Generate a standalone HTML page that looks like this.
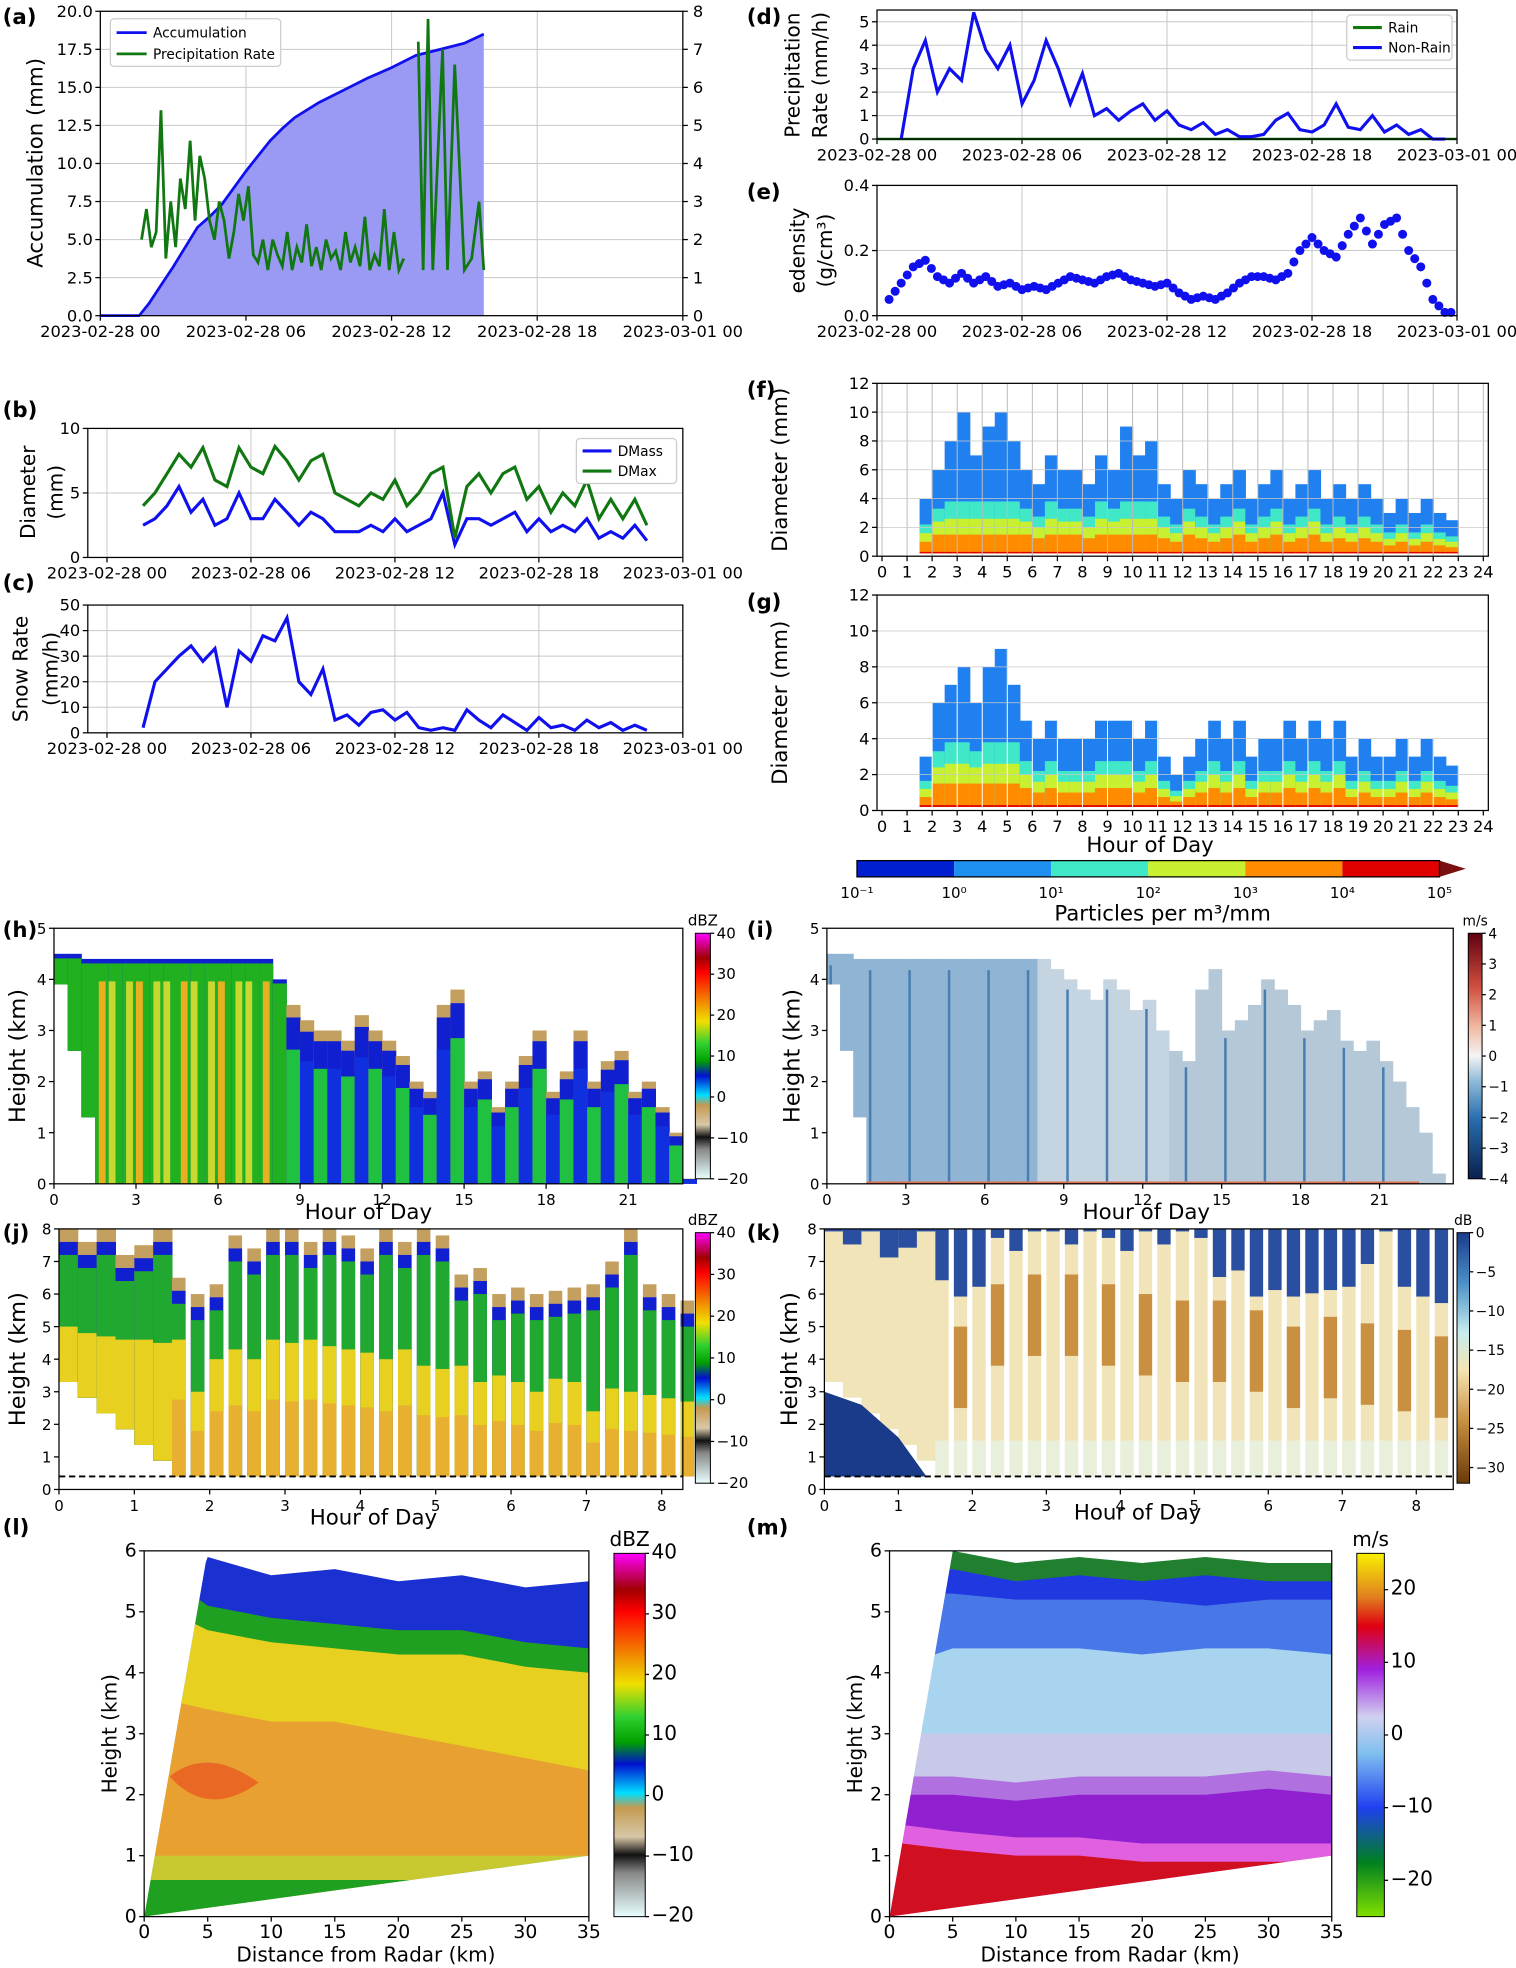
<!DOCTYPE html>
<html><head><meta charset="utf-8"><title>Snow event multi-panel figure</title>
<style>
html,body{margin:0;padding:0;background:#fff;}
svg{display:block;font-family:"DejaVu Sans","Liberation Sans",sans-serif;}
</style></head>
<body>
<svg id="fig" width="1516" height="1968" viewBox="0 0 1210 1571" xmlns="http://www.w3.org/2000/svg">
<defs>
<linearGradient id="gDbz" x1="0" y1="1" x2="0" y2="0">
<stop offset="0" stop-color="#e8ffff"/><stop offset="0.12" stop-color="#888"/><stop offset="0.17" stop-color="#111"/><stop offset="0.22" stop-color="#d8c8a8"/><stop offset="0.3" stop-color="#c49a50"/><stop offset="0.34" stop-color="#00e0ff"/><stop offset="0.42" stop-color="#0010d0"/><stop offset="0.48" stop-color="#00a000"/><stop offset="0.55" stop-color="#30d030"/><stop offset="0.64" stop-color="#f0e000"/><stop offset="0.7" stop-color="#f0a000"/><stop offset="0.84" stop-color="#ff0000"/><stop offset="0.9" stop-color="#a00000"/><stop offset="1" stop-color="#ff00ff"/>
</linearGradient>
<linearGradient id="gVel" x1="0" y1="1" x2="0" y2="0">
<stop offset="0" stop-color="#0a2050"/><stop offset="0.25" stop-color="#2a70b0"/><stop offset="0.4" stop-color="#90bcd8"/><stop offset="0.5" stop-color="#f4f4f4"/><stop offset="0.62" stop-color="#f0b8a0"/><stop offset="0.78" stop-color="#d05040"/><stop offset="1" stop-color="#600010"/>
</linearGradient>
<linearGradient id="gLdr" x1="0" y1="1" x2="0" y2="0">
<stop offset="0" stop-color="#6a3a08"/><stop offset="0.25" stop-color="#c89040"/><stop offset="0.45" stop-color="#f4e4b0"/><stop offset="0.6" stop-color="#c8ecec"/><stop offset="0.8" stop-color="#4a90c8"/><stop offset="1" stop-color="#1a3a8a"/>
</linearGradient>
<linearGradient id="gRad" x1="0" y1="1" x2="0" y2="0">
<stop offset="0" stop-color="#80e000"/><stop offset="0.15" stop-color="#008020"/><stop offset="0.3" stop-color="#2040f0"/><stop offset="0.45" stop-color="#80c0f0"/><stop offset="0.55" stop-color="#d0d0f0"/><stop offset="0.68" stop-color="#a020e0"/><stop offset="0.8" stop-color="#e00010"/><stop offset="0.88" stop-color="#e08020"/><stop offset="1" stop-color="#f8f000"/>
</linearGradient>
</defs>
</svg>
<script>
// ---------- data ----------
const accHours=[0,1.6,2,2.5,3,3.5,4,4.5,5,5.5,6,6.5,7,7.5,8,9,10,11,12,13,14,15,15.8];
const accValues=[0,0,0.8,2,3.2,4.5,5.8,6.5,7.3,8.4,9.5,10.5,11.5,12.3,13,14,14.8,15.6,16.3,17.1,17.5,17.9,18.5];
const rateDense=[2,2.8,1.8,2.2,5.4,1.5,3,1.8,3.6,2.8,4.6,2.5,4.2,3.6,2.5,2,3,2.5,1.5,2.2,3.2,2.5,3.4,1.6,1.4,2,1.2,2,1.6,1.3,2.2,1.2,1.8,1.4,2.4,1.3,1.8,1.2,2,1.5,1.7,1.2,2.2,1.4,1.8,1.3,2.6,1.2,1.6,1.3,2.8,1.2,2.2,1.2,1.5];
const rateSpikeHours=[13.1,13.3,13.5,13.7,14.1,14.3,14.6,15,15.3,15.6,15.8];
const rateSpikeValues=[7.2,1.2,7.8,1.2,7,1.2,6.6,1.2,1.5,3,1.2];
const dmaxValues=[4,5,6.5,8,7,8.5,6,5.5,8.5,7,6.5,8.6,7.5,6,7.5,8,5,4.5,4,5,4.5,6,4,5,6.5,7,1.5,5.5,6.5,5,6.5,7,4.5,5.5,3.5,5,4,6,3,4.5,3,4.5,2.5];
const dmassValues=[2.5,3,4,5.5,3.5,4.5,2.5,3,5,3,3,4.5,3.5,2.5,3.5,3,2,2,2,2.5,2,3,2,2.5,3,5,1,3,3,2.5,3,3.5,2,3,2,2.5,2,3,1.5,2,1.5,2.5,1.3];
const snowRateValues=[2,20,25,30,34,28,33,10,32,28,38,36,45,20,15,25,5,7,3,8,9,5,8,2,1,2,1,9,5,2,7,4,1,6,2,3,1,5,2,4,1,3,1];
const nonRainValues=[0,3,4.2,2,3,2.5,5.4,3.8,3,4,1.5,2.5,4.2,3,1.5,2.8,1,1.3,0.8,1.2,1.5,0.8,1.2,0.6,0.4,0.7,0.2,0.4,0.1,0.1,0.2,0.8,1.1,0.4,0.3,0.6,1.5,0.5,0.4,1,0.3,0.6,0.2,0.4,0,0];
const edensityValues=[0.05,0.1,0.15,0.17,0.12,0.1,0.13,0.1,0.12,0.09,0.1,0.08,0.09,0.08,0.1,0.12,0.11,0.1,0.12,0.13,0.11,0.1,0.09,0.1,0.07,0.05,0.06,0.05,0.07,0.1,0.12,0.12,0.11,0.13,0.2,0.24,0.2,0.18,0.25,0.3,0.22,0.28,0.3,0.2,0.15,0.05,0.01];
const psdMaxF=[4,6,8,10,7,9,10,8,6,5,7,6,6,5,7,6,9,7,8,5,4,6,5,4,5,6,4,5,6,4,5,6,4,5,4,5,4,3,4,3,4,3,2.5];
const psdMaxG=[3,6,7,8,6,8,9,7,5,4,5,4,4,4,5,5,5,4,5,3,2,3,4,5,4,5,3,4,4,5,4,5,4,5,3,4,3,3,4,3,4,3,2.5];
const echoTopH=[4.5,4.5,4.4,4.4,4.4,4.4,4.4,4.4,4.4,4.4,4.4,4.4,4.4,4.4,4.4,4.4,4.0,3.5,3.2,3.0,3.0,2.8,3.3,3.0,2.8,2.5,2.0,1.8,3.5,3.8,2.0,2.2,1.5,2.0,2.5,3.0,1.8,2.2,3.0,2.0,2.4,2.6,1.8,2.0,1.5,1.0,0.1];
const echoTopI=[4.5,4.5,4.4,4.4,4.4,4.4,4.4,4.4,4.4,4.4,4.4,4.4,4.4,4.4,4.4,4.4,4.4,4.2,4.0,3.8,3.6,4.0,3.8,3.4,3.6,3.0,2.6,2.4,3.8,4.2,3.0,3.2,3.5,4.0,3.8,3.5,3.0,3.2,3.4,2.8,2.6,2.8,2.4,2.0,1.5,1.0,0.2];
const cloudTopJ=[8,7.6,8,7.2,7.5,8,6.5,6,6.3,7.8,7.4,8,8,7.6,8,7.8,7.4,8,7.6,8,7.8,6.6,6.8,6,6.2,6,6.1,6.2,6.3,7,8,6.3,6,5.8];
const meltTopJ=[5,4.8,4.7,4.6,4.6,4.5,4.6,3,4,4.3,4,4.6,4.5,4.6,4.4,4.3,4.2,4,4.3,3.8,3.7,3.8,3.3,3.5,3.3,3,3.4,3.3,2.4,3.1,3,2.9,2.8,2.7];
const distL=[0,5,10,15,20,25,30,35];
const bandTopL=[5.8,5.9,5.6,5.7,5.5,5.6,5.4,5.5];
const greenTopL=[5.2,5.1,4.9,4.8,4.7,4.7,4.5,4.4];
const orangeTopL=[3.5,3.4,3.2,3.2,3.0,2.8,2.6,2.4];
const bandTopM=[6,6,5.8,5.9,5.8,5.9,5.8,5.8];
const blueTopM=[5.3,5.3,5.2,5.2,5.2,5.1,5.2,5.2];
const lightTopM=[4.3,4.4,4.4,4.4,4.3,4.4,4.4,4.3];
const purpleTopM=[2.0,2.0,1.9,2.0,2.0,2.0,2.1,2.0];
const redTopM=[1.2,1.1,1.0,1.0,0.9,0.9,0.9,0.9];
const dateTicks=['2023-02-28 00','2023-02-28 06','2023-02-28 12','2023-02-28 18','2023-03-01 00'];

// ---------- helpers ----------
const svg=document.getElementById('fig');
const NS='http://www.w3.org/2000/svg';
function mk(tag,attrs,name,parent){
  const el=document.createElementNS(NS,tag);
  for(const k in attrs) el.setAttribute(k,attrs[k]);
  
  
  (parent||svg).appendChild(el);return el;
}
function txt(x,y,s,name,opt){
  opt=opt||{};
  const t=mk('text',{x:x,y:y,'font-size':opt.size||13,'text-anchor':opt.anchor||'middle',fill:opt.fill||'#000','font-weight':opt.weight||'normal'},name);
  if(opt.rot) t.setAttribute('transform','rotate('+opt.rot+' '+x+' '+y+')');
  t.textContent=s;return t;
}
function scales(A){
  A.sx=v=>A.x0+(v-A.xmin)/(A.xmax-A.xmin)*(A.x1-A.x0);
  A.sy=v=>A.y1-(v-A.ymin)/(A.ymax-A.ymin)*(A.y1-A.y0);
  return A;
}
function frame(A,name,yt,ylab,grid,xt,xlab,fs){
  fs=fs||13;
  if(grid){
    yt.forEach(v=>mk('line',{x1:A.x0,x2:A.x1,y1:A.sy(v),y2:A.sy(v),stroke:'#c8c8c8','stroke-width':0.8},name+'-grid-y'));
    xt.forEach(v=>mk('line',{x1:A.sx(v[0]),x2:A.sx(v[0]),y1:A.y0,y2:A.y1,stroke:'#c8c8c8','stroke-width':0.8},name+'-grid-x'));
  }
  yt.forEach(v=>{
    mk('line',{x1:A.x0-4,x2:A.x0,y1:A.sy(v),y2:A.sy(v),stroke:'#000'},name+'-y-tick');
    txt(A.x0-6,A.sy(v)+4.5,ylab(v),name+'-y-tick-label',{anchor:'end',size:fs});
  });
  xt.forEach(v=>{
    mk('line',{x1:A.sx(v[0]),x2:A.sx(v[0]),y1:A.y1,y2:A.y1+4,stroke:'#000'},name+'-x-tick');
    txt(A.sx(v[0]),A.y1+17,v[1],name+'-x-tick-label',{size:fs});
  });
}
function box(A,name){mk('rect',{x:A.x0,y:A.y0,width:A.x1-A.x0,height:A.y1-A.y0,fill:'none',stroke:'#000','stroke-width':1},name+'-frame');}
function poly(A,xs,ys,name,color,w){
  const pts=xs.map((x,i)=>A.sx(x).toFixed(1)+','+A.sy(ys[i]).toFixed(1)).join(' ');
  return mk('polyline',{points:pts,fill:'none',stroke:color,'stroke-width':w||2.5},name);
}
function hoursFrom(start,step,n){const a=[];for(let i=0;i<n;i++)a.push(start+i*step);return a;}
const dateX=[[0,dateTicks[0]],[6,dateTicks[1]],[12,dateTicks[2]],[18,dateTicks[3]],[24,dateTicks[4]]];
function label(x,y,s){txt(x,y,s,'panel-label-'+s.replace(/[()]/g,''),{size:17,weight:'bold',anchor:'start'});}

// ---------- (a) ----------
(function(){
  const A=scales({x0:80,x1:545,y0:9,y1:252,xmin:0,xmax:24,ymin:0,ymax:20});
  frame(A,'a',[0,2.5,5,7.5,10,12.5,15,17.5,20],v=>v.toFixed(1),true,dateX,'',13);
  const R=scales({x0:80,x1:545,y0:9,y1:252,xmin:0,xmax:24,ymin:0,ymax:8});
  [0,1,2,3,4,5,6,7,8].forEach(v=>{mk('line',{x1:545,x2:549,y1:R.sy(v),y2:R.sy(v),stroke:'#000'},'a-right-tick');txt(553,R.sy(v)+4.5,String(v),'a-right-tick-label',{anchor:'start'});});
  let d='M'+A.sx(accHours[0])+','+A.sy(0);
  accHours.forEach((h,i)=>d+=' L'+A.sx(h).toFixed(1)+','+A.sy(accValues[i]).toFixed(1));
  d+=' L'+A.sx(accHours[accHours.length-1])+','+A.sy(0)+' Z';
  mk('path',{d:d,fill:'#9a9af4',stroke:'none'},'accumulation-area');
  poly(A,accHours,accValues,'accumulation-line','#1010ee',2.2);
  poly(R,hoursFrom(1.7,0.2,rateDense.length),rateDense,'precip-rate-line','#117711',2.2);
  poly(R,rateSpikeHours,rateSpikeValues,'precip-rate-spikes','#117711',2.2);
  box(A,'a');
  txt(34,130,'Accumulation (mm)','a-y-axis-title',{size:17,rot:-90});
  mk('rect',{x:88,y:15,width:136,height:38,fill:'#fff',stroke:'#ccc',rx:3},'a-legend');
  mk('line',{x1:93,x2:117,y1:26,y2:26,stroke:'#1010ee','stroke-width':2.2},'legend-accumulation-swatch');
  txt(122,30,'Accumulation','legend-accumulation',{anchor:'start',size:11});
  mk('line',{x1:93,x2:117,y1:43,y2:43,stroke:'#117711','stroke-width':2.2},'legend-precip-swatch');
  txt(122,47,'Precipitation Rate','legend-precip-rate',{anchor:'start',size:11});
  label(2,19,'(a)');
})();

// ---------- (b) ----------
(function(){
  const A=scales({x0:70,x1:545,y0:342,y1:445,xmin:-0.8,xmax:24,ymin:0,ymax:10});
  frame(A,'b',[0,5,10],v=>String(v),true,dateX,'',13);
  const hs=hoursFrom(1.5,0.5,dmaxValues.length);
  poly(A,hs,dmassValues,'dmass-line','#1010ee',2.5);
  poly(A,hs,dmaxValues,'dmax-line','#117711',2.5);
  box(A,'b');
  txt(28,393,'Diameter','b-y-axis-title',{size:16,rot:-90});
  txt(50,393,'(mm)','b-y-axis-unit',{size:16,rot:-90});
  mk('rect',{x:460,y:350,width:80,height:36,fill:'#fff',stroke:'#ccc',rx:3},'b-legend');
  mk('line',{x1:465,x2:488,y1:360,y2:360,stroke:'#1010ee','stroke-width':2.5},'legend-dmass-swatch');
  txt(493,364,'DMass','legend-dmass',{anchor:'start',size:11});
  mk('line',{x1:465,x2:488,y1:376,y2:376,stroke:'#117711','stroke-width':2.5},'legend-dmax-swatch');
  txt(493,380,'DMax','legend-dmax',{anchor:'start',size:11});
  label(2,333,'(b)');
})();

// ---------- (c) ----------
(function(){
  const A=scales({x0:70,x1:545,y0:483,y1:585,xmin:-0.8,xmax:24,ymin:0,ymax:50});
  frame(A,'c',[0,10,20,30,40,50],v=>String(v),true,dateX,'',13);
  poly(A,hoursFrom(1.5,0.5,snowRateValues.length),snowRateValues,'snow-rate-line','#1010ee',2.5);
  box(A,'c');
  txt(22,534,'Snow Rate','c-y-axis-title',{size:16,rot:-90});
  txt(46,534,'(mm/h)','c-y-axis-unit',{size:16,rot:-90});
  label(2,471,'(c)');
})();

// ---------- (d) ----------
(function(){
  const A=scales({x0:700,x1:1163,y0:8,y1:111,xmin:0,xmax:24,ymin:0,ymax:5.5});
  frame(A,'d',[0,1,2,3,4,5],v=>String(v),true,dateX,'',13);
  mk('line',{x1:A.sx(0),x2:A.sx(24),y1:A.sy(0),y2:A.sy(0),stroke:'#117711','stroke-width':2},'rain-line');
  poly(A,hoursFrom(1,0.5,nonRainValues.length),nonRainValues,'non-rain-line','#1010ee',2.5);
  box(A,'d');
  txt(638,60,'Precipitation','d-y-axis-title',{size:16,rot:-90});
  txt(660,60,'Rate (mm/h)','d-y-axis-unit',{size:16,rot:-90});
  mk('rect',{x:1075,y:12,width:84,height:36,fill:'#fff',stroke:'#ccc',rx:3},'d-legend');
  mk('line',{x1:1080,x2:1103,y1:22,y2:22,stroke:'#117711','stroke-width':2.5},'legend-rain-swatch');
  txt(1108,26,'Rain','legend-rain',{anchor:'start',size:11});
  mk('line',{x1:1080,x2:1103,y1:38,y2:38,stroke:'#1010ee','stroke-width':2.5},'legend-non-rain-swatch');
  txt(1108,42,'Non-Rain','legend-non-rain',{anchor:'start',size:11});
  label(596,19,'(d)');
})();

// ---------- (e) ----------
(function(){
  const A=scales({x0:700,x1:1163,y0:148,y1:252,xmin:0,xmax:24,ymin:0,ymax:0.4});
  frame(A,'e',[0,0.2,0.4],v=>v.toFixed(1),true,dateX,'',13);
  const hs=hoursFrom(0.5,0.5,edensityValues.length);
  edensityValues.forEach((v,i)=>{
    mk('circle',{cx:A.sx(hs[i]),cy:A.sy(v),r:3.6,fill:'#1010ee'},'edensity-point');
    mk('circle',{cx:A.sx(hs[i]+0.25),cy:A.sy((v+(edensityValues[i+1]??v))/2),r:3.6,fill:'#1010ee'},'edensity-point');
  });
  box(A,'e');
  txt(642,200,'edensity','e-y-axis-title',{size:16,rot:-90});
  txt(664,200,'(g/cm³)','e-y-axis-unit',{size:16,rot:-90});
  label(596,159,'(e)');
})();

// ---------- (f),(g) PSD ----------
const psdColors=['#e00000','#ff8c00','#c8f030','#40e8c8','#2080f0'];
function psd(A,name,maxArr,gridColor){
  const hs=hoursFrom(1.5,0.5,maxArr.length);
  const w=A.sx(0.5)-A.sx(0);
  maxArr.forEach((m,i)=>{
    const x=A.sx(hs[i]);
    const tops=[0.3,Math.min(1.5,m*0.25),Math.min(2.6,m*0.4),Math.min(3.8,m*0.55),m];
    for(let k=4;k>=0;k--){
      mk('rect',{x:x,y:A.sy(tops[k]),width:w+0.5,height:A.sy(0.2)-A.sy(tops[k]),fill:psdColors[k]},name+'-psd-cell');
    }
  });
  for(let h=0;h<=24;h++) mk('line',{x1:A.sx(h),x2:A.sx(h),y1:A.y0,y2:A.y1,stroke:gridColor,'stroke-width':0.8},name+'-grid-x');
  for(let d=0;d<=12;d+=2) mk('line',{x1:A.x0,x2:A.x1,y1:A.sy(d),y2:A.sy(d),stroke:'#c8c8c8','stroke-width':0.6},name+'-grid-y');
  const xt=[];for(let h=0;h<=24;h++)xt.push([h,String(h)]);
  frame(A,name,[0,2,4,6,8,10,12],v=>String(v),false,xt,'',13);
  box(A,name);
}
(function(){
  const F=scales({x0:700,x1:1188,y0:306,y1:444,xmin:-0.2,xmax:24.2,ymin:0,ymax:12});
  psd(F,'f',psdMaxF,'#bbbbbb');
  txt(628,375,'Diameter (mm)','f-y-axis-title',{size:17,rot:-90});
  label(596,317,'(f)');
  const G=scales({x0:700,x1:1188,y0:475,y1:647,xmin:-0.2,xmax:24.2,ymin:0,ymax:12});
  psd(G,'g',psdMaxG,'#ffffff');
  txt(628,561,'Diameter (mm)','g-y-axis-title',{size:17,rot:-90});
  txt(918,680,'Hour of Day','g-x-axis-title',{size:17});
  label(596,486,'(g)');
  const cols=['#0020d0','#2090f0','#40e8c8','#c8f030','#ff8c00','#e00000'];
  cols.forEach((c,i)=>mk('rect',{x:684+i*77.5,y:687,width:77.5,height:13,fill:c},'psd-colorbar-segment'));
  mk('polygon',{points:'1149,687 1170,693.5 1149,700',fill:'#7a1010'},'psd-colorbar-extend');
  mk('rect',{x:684,y:687,width:465,height:13,fill:'none',stroke:'#000'},'psd-colorbar-frame');
  ['10⁻¹','10⁰','10¹','10²','10³','10⁴','10⁵'].forEach((s,i)=>txt(684+i*77.5,717,s,'psd-colorbar-label',{size:12}));
  txt(928,735,'Particles per m³/mm','psd-colorbar-title',{size:17});
})();

// ---------- colorbar helper ----------
function cbar(x,y,w,h,grad,vals,vmin,vmax,unit,name,fs){
  mk('rect',{x:x,y:y,width:w,height:h,fill:'url(#'+grad+')',stroke:'#000','stroke-width':0.8},name+'-colorbar');
  vals.forEach(v=>{
    const yy=y+h-(v-vmin)/(vmax-vmin)*h;
    mk('line',{x1:x+w,x2:x+w+3,y1:yy,y2:yy,stroke:'#000'},name+'-colorbar-tick');
    txt(x+w+5,yy+4,(v<0?'−'+(-v):String(v)),name+'-colorbar-label',{anchor:'start',size:fs||12});
  });
  txt(x+w/2,y-6,unit,name+'-colorbar-unit',{size:fs||12});
}

// ---------- (h) ----------
(function(){
  const A=scales({x0:43,x1:545,y0:741,y1:945,xmin:0,xmax:23,ymin:0,ymax:5});
  const hs=hoursFrom(0,0.5,echoTopH.length);const w=A.sx(0.5)-A.sx(0);
  echoTopH.forEach((t,i)=>{
    const x=A.sx(hs[i]);const late=hs[i]>8;
    const bot=hs[i]<1.5?(1.5-hs[i])*2.6:0;
    mk('rect',{x:x,y:A.sy(t),width:w+0.4,height:A.sy(bot)-A.sy(t),fill:late?'#c4a060':'#1020d0'},'h-echo-edge');
    mk('rect',{x:x,y:A.sy(t*(late?0.93:0.98)),width:w+0.4,height:A.sy(bot)-A.sy(t*(late?0.93:0.98)),fill:late?'#1020d0':'#20b020'},'h-echo-mid');
    if(late) mk('rect',{x:x,y:A.sy(t*0.75),width:w+0.4,height:A.sy(bot)-A.sy(t*0.75),fill:(i%2?'#20c040':'#1030e0')},'h-echo-core');
    if(hs[i]>=1.5&&hs[i]<8) mk('rect',{x:x+(i%2)*3,y:A.sy(t*0.9),width:w*0.5,height:A.sy(0)-A.sy(t*0.9),fill:i%3?'#c8d830':'#e8b020'},'h-echo-bright');
  });
  const xt=[0,3,6,9,12,15,18,21].map(v=>[v,String(v)]);
  frame(A,'h',[0,1,2,3,4,5],v=>String(v),false,xt,'',12);
  box(A,'h');
  txt(20,843,'Height (km)','h-y-axis-title',{size:18,rot:-90});
  txt(294,973,'Hour of Day','h-x-axis-title',{size:17});
  cbar(555,745,12,196,'gDbz',[-20,-10,0,10,20,30,40],-20,40,'dBZ','h',12);
  label(2,748,'(h)');
})();

// ---------- (i) ----------
(function(){
  const A=scales({x0:660,x1:1160,y0:741,y1:945,xmin:0,xmax:23.8,ymin:0,ymax:5});
  const hs=hoursFrom(0,0.5,echoTopI.length);const w=A.sx(0.5)-A.sx(0);
  echoTopI.forEach((t,i)=>{
    const x=A.sx(hs[i]);const bot=hs[i]<1.5?(1.5-hs[i])*2.6:0;
    const c=hs[i]<8?'#8fb4d4':(hs[i]<13?'#c4d4e0':'#b4c8d8');
    mk('rect',{x:x,y:A.sy(t),width:w+0.4,height:A.sy(bot)-A.sy(t),fill:c},'i-velocity-column');
    if(i%3===0&&t>1) mk('rect',{x:x+2,y:A.sy(t*0.95),width:2,height:A.sy(bot)-A.sy(t*0.95),fill:'#4a7eb0'},'i-velocity-streak');
  });
  mk('line',{x1:A.sx(1.5),x2:A.sx(22.5),y1:A.sy(0.02),y2:A.sy(0.02),stroke:'#e07050','stroke-width':2},'i-surface-band');
  const xt=[0,3,6,9,12,15,18,21].map(v=>[v,String(v)]);
  frame(A,'i',[0,1,2,3,4,5],v=>String(v),false,xt,'',12);
  box(A,'i');
  txt(638,843,'Height (km)','i-y-axis-title',{size:18,rot:-90});
  txt(915,973,'Hour of Day','i-x-axis-title',{size:17});
  cbar(1172,745,11,196,'gVel',[-4,-3,-2,-1,0,1,2,3,4],-4,4,'m/s','i',11);
  label(596,748,'(i)');
})();

// ---------- (j),(k) ----------
function striped(A,name,kind){
  const hs=hoursFrom(0,0.25,cloudTopJ.length);const w=A.sx(0.25)-A.sx(0);
  cloudTopJ.forEach((t,i)=>{
    const h=hs[i];const x=A.sx(h);
    const bot=h<1.5?3.3-(h/1.5)*2.9:0.4;
    const mt=meltTopJ[i];
    const ww=h>=1.5?w*0.72:w+0.4;
    if(kind==='j'){
      mk('rect',{x:x,y:A.sy(t),width:ww,height:A.sy(bot)-A.sy(t),fill:'#c4a060'},name+'-cloud-top');
      mk('rect',{x:x,y:A.sy(t-0.4),width:ww,height:A.sy(bot)-A.sy(t-0.4),fill:'#1020d0'},name+'-cloud-blue');
      mk('rect',{x:x,y:A.sy(t-0.8),width:ww,height:A.sy(bot)-A.sy(t-0.8),fill:'#20a830'},name+'-cloud-green');
      mk('rect',{x:x,y:A.sy(mt),width:ww,height:A.sy(bot)-A.sy(mt),fill:'#e8d020'},name+'-snow-yellow');
      if(h>=1.5) mk('rect',{x:x,y:A.sy(mt*0.6),width:ww,height:A.sy(bot)-A.sy(mt*0.6),fill:'#e8b030'},name+'-snow-orange');
    }else{
      mk('rect',{x:x,y:A.sy(8),width:ww,height:A.sy(bot)-A.sy(8),fill:'#f0e4b8'},name+'-ldr-base');
      mk('rect',{x:x,y:A.sy(8),width:ww,height:A.sy(t)-A.sy(8)+2,fill:'#2a4ea0'},name+'-ldr-top');
      if(h>=1.5&&i%2) mk('rect',{x:x,y:A.sy(mt+2),width:ww,height:A.sy(mt-0.5)-A.sy(mt+2),fill:'#c89040'},name+'-ldr-brown');
      if(h>=1.5) mk('rect',{x:x,y:A.sy(1.5),width:ww,height:A.sy(0.4)-A.sy(1.5),fill:'#e8f0dc'},name+'-ldr-low');
    }
  });
  if(kind==='k'){
    mk('polygon',{points:A.sx(0)+','+A.sy(3.0)+' '+A.sx(0.5)+','+A.sy(2.6)+' '+A.sx(1.0)+','+A.sy(1.6)+' '+A.sx(1.38)+','+A.sy(0.4)+' '+A.sx(0)+','+A.sy(0.4),fill:'#1a3a8a'},name+'-ldr-dark-region');
  }
  mk('line',{x1:A.sx(0),x2:A.x1,y1:A.sy(0.4),y2:A.sy(0.4),stroke:'#000','stroke-width':1.4,'stroke-dasharray':'5,3'},name+'-dashed-line');
  const xt=[0,1,2,3,4,5,6,7,8].map(v=>[v,String(v)]);
  frame(A,name,[0,1,2,3,4,5,6,7,8],v=>String(v),false,xt,'',12);
  box(A,name);
}
(function(){
  const J=scales({x0:47,x1:545,y0:981,y1:1189,xmin:0,xmax:8.28,ymin:0,ymax:8});
  striped(J,'j','j');
  txt(20,1085,'Height (km)','j-y-axis-title',{size:18,rot:-90});
  txt(298,1217,'Hour of Day','j-x-axis-title',{size:17});
  cbar(555,984,12,200,'gDbz',[-20,-10,0,10,20,30,40],-20,40,'dBZ','j',12);
  label(2,990,'(j)');
  const K=scales({x0:658,x1:1160,y0:981,y1:1189,xmin:0,xmax:8.5,ymin:0,ymax:8});
  striped(K,'k','k');
  txt(636,1085,'Height (km)','k-y-axis-title',{size:18,rot:-90});
  txt(908,1213,'Hour of Day','k-x-axis-title',{size:17});
  cbar(1163,984,10,200,'gLdr',[-30,-25,-20,-15,-10,-5,0],-32,0,'dB','k',11);
  label(596,990,'(k)');
})();

// ---------- (l),(m) ----------
function rhi(A,name,bands){
  const bottom=d=>d*1/35+0.0;
  const wedgeLeft=h=>h*5/6;
  bands.forEach(([arr,color])=>{
    let d='';
    distL.forEach((x,i)=>{const top=arr[i];const xx=Math.max(x,wedgeLeft(top));d+=(i?' L':'M')+A.sx(xx).toFixed(1)+','+A.sy(top).toFixed(1);});
    for(let i=distL.length-1;i>=0;i--){d+=' L'+A.sx(distL[i]).toFixed(1)+','+A.sy(bottom(distL[i])).toFixed(1);}
    d+=' Z';
    mk('path',{d:d,fill:color},name+'-band');
  });
  mk('polygon',{points:A.sx(0)+','+A.sy(0)+' '+A.sx(35)+','+A.sy(1)+' '+A.sx(35)+','+A.sy(0)},name+'-below-beam').setAttribute('fill','#fff');
  mk('polygon',{points:A.sx(0)+','+A.sy(0)+' '+A.sx(5)+','+A.sy(6)+' '+A.sx(0)+','+A.sy(6)},name+'-outside-wedge').setAttribute('fill','#fff');
  const xt=[0,5,10,15,20,25,30,35].map(v=>[v,String(v)]);
  frame(A,name,[0,1,2,3,4,5,6],v=>String(v),false,xt,'',15);
  box(A,name);
}
(function(){
  const L=scales({x0:115,x1:470,y0:1238,y1:1530,xmin:0,xmax:35,ymin:0,ymax:6});
  rhi(L,'l',[[bandTopL,'#1a30d0'],[greenTopL,'#20a020'],[distL.map((d,i)=>greenTopL[i]-0.4),'#e8d020'],[orangeTopL,'#e8a030'],[distL.map(()=>1.0),'#c8c830'],[distL.map(()=>0.6),'#20a020']]);
  mk('path',{d:'M'+L.sx(2)+','+L.sy(2.3)+' Q'+L.sx(5)+','+L.sy(2.8)+' '+L.sx(9)+','+L.sy(2.2)+' Q'+L.sx(5)+','+L.sy(1.6)+' '+L.sx(2)+','+L.sy(2.3)+' Z',fill:'#e85a20',opacity:0.8},'l-high-reflectivity');
  txt(93,1384,'Height (km)','l-y-axis-title',{size:16,rot:-90});
  txt(292,1566,'Distance from Radar (km)','l-x-axis-title',{size:16});
  cbar(490,1240,25,290,'gDbz',[-20,-10,0,10,20,30,40],-20,40,'dBZ','l',16);
  label(2,1225,'(l)');
  const M=scales({x0:710,x1:1063,y0:1238,y1:1530,xmin:0,xmax:35,ymin:0,ymax:6});
  rhi(M,'m',[[bandTopM,'#208030'],[distL.map((d,i)=>bandTopM[i]-0.3),'#2038e0'],[blueTopM,'#4878e8'],[lightTopM,'#a8d4f0'],[distL.map(()=>3.0),'#c8c8e8'],[distL.map((d,i)=>purpleTopM[i]+0.3),'#b070e0'],[purpleTopM,'#9020d0'],[distL.map((d,i)=>redTopM[i]+0.3),'#e060e0'],[redTopM,'#d01020']]);
  txt(688,1384,'Height (km)','m-y-axis-title',{size:16,rot:-90});
  txt(886,1566,'Distance from Radar (km)','m-x-axis-title',{size:16});
  cbar(1083,1240,22,290,'gRad',[-20,-10,0,10,20],-25,25,'m/s','m',16);
  label(596,1225,'(m)');
})();
</script>
</body></html>
